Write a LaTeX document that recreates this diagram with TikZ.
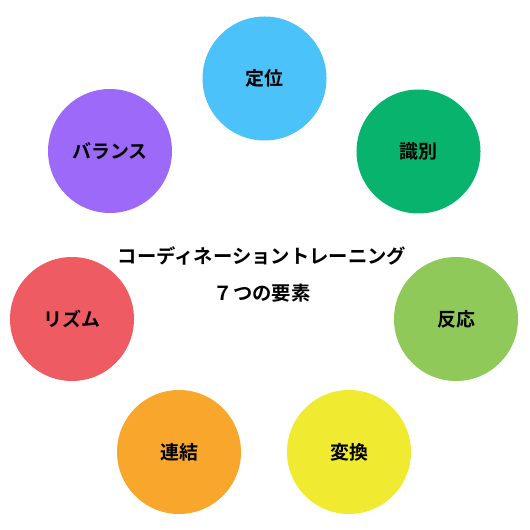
\documentclass[tikz,border=0pt]{standalone}
\usepackage{fontspec}
\setmainfont{Noto Sans CJK JP}[BoldFont={Noto Sans CJK JP Bold}]
\definecolor{cblue}{HTML}{4CC2FA}
\definecolor{cgreen}{HTML}{08B36E}
\definecolor{clime}{HTML}{8FC95A}
\definecolor{cyellow}{HTML}{F0EA31}
\definecolor{corange}{HTML}{F9A72C}
\definecolor{cred}{HTML}{EF5B63}
\definecolor{cpurple}{HTML}{9C69F8}
\tikzset{
  elem/.style={circle, minimum size=93pt, inner sep=0pt, font=\fontsize{14.2pt}{17pt}\bfseries},
  title/.style={font=\fontsize{14.5pt}{17pt}\bfseries}
}
\begin{document}
\begin{tikzpicture}[x=0.75pt,y=-0.75pt]
\useasboundingbox (0,0) rectangle (530,530);
\node[elem, fill=cblue] (teii) at (264.5,78.5) {定位};
\node[elem, fill=cgreen] (shiki) at (418.5,151.5) {識別};
\node[elem, fill=clime] (hanno) at (456,319) {反応};
\node[elem, fill=cyellow] (henkan) at (349,452) {変換};
\node[elem, fill=corange] (renketsu) at (179,452) {連結};
\node[elem, fill=cred] (rizumu) at (72,319) {リズム};
\node[elem, fill=cpurple] (baransu) at (110,151) {バランス};
\node[title] (t1) at (262,256) {コーディネーショントレーニング};
\node[title] (t2) at (262,293) {７つの要素};
\end{tikzpicture}
\end{document}
